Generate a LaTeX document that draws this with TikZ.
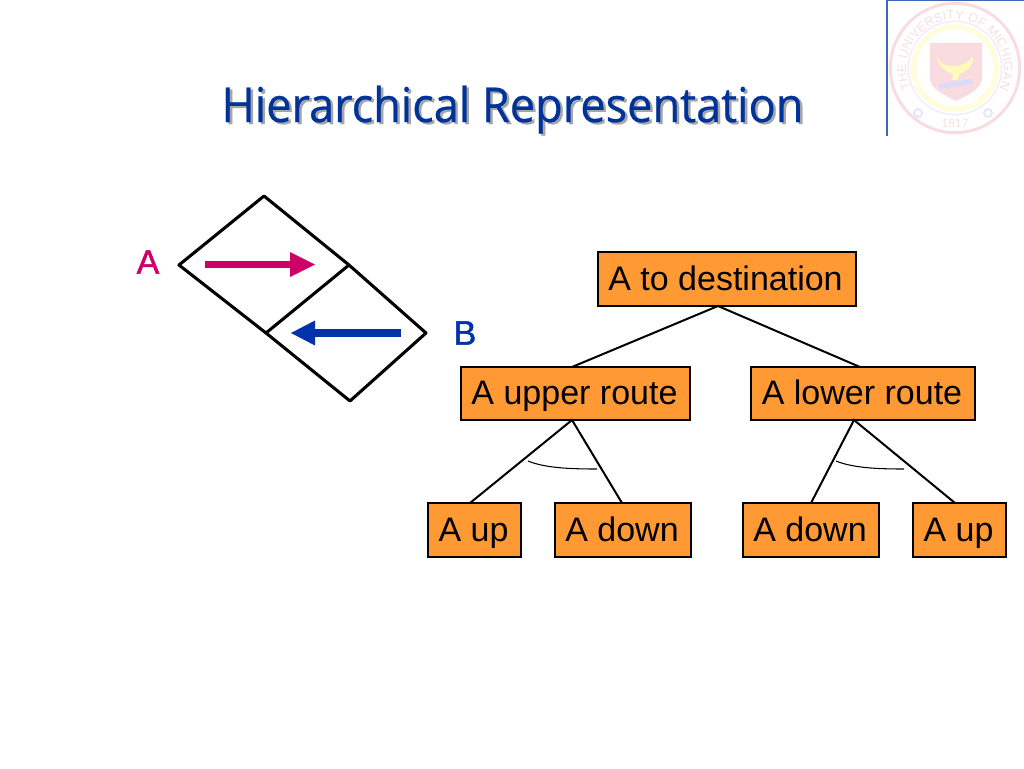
\documentclass[tikz,border=0pt]{standalone}
\usepackage{fontspec}
\usepackage{graphicx}
\setmainfont{Liberation Sans}
\newfontfamily\titlefont[RawFeature={embolden=0.5}]{Open Sans}
\newfontfamily\labelfont[RawFeature={embolden=1.4}]{Liberation Sans}
\usetikzlibrary{decorations.text}
\definecolor{boxorange}{HTML}{FF9933}
\definecolor{pinkA}{HTML}{CC0066}
\definecolor{blueB}{HTML}{0033AA}
\definecolor{titleblue}{HTML}{003399}
\definecolor{sealpink}{HTML}{F8DCE0}
\definecolor{sealtext}{HTML}{F5E0E2}
\tikzset{
  treebox/.style={draw=black,fill=boxorange,line width=1.5pt,anchor=center,inner sep=0pt,text height=20pt,text depth=3pt,font=\fontsize{25.5pt}{30pt}\selectfont},
  treeline/.style={draw=black,line width=1.5pt},
  andarc/.style={draw=black,line width=0.8pt},
  cell/.style={draw=black,line width=2.3pt,line join=round},
  agentlabel/.style={font=\labelfont\fontsize{25.5pt}{30pt}\selectfont,inner sep=0pt,anchor=center}
}
\begin{document}
\begin{tikzpicture}[x=0.75pt,y=-0.75pt]
\useasboundingbox (0,0) rectangle (1024,768);
\fill[white] (0,0) rectangle (1024,768);
% seal
\draw[sealpink,line width=2.2pt] (955,68) circle[radius=48.5pt];
\draw[blue!7!white,line width=1pt] (955,68) circle[radius=35pt];
\draw[yellow!14!white,line width=4pt] (955,68) circle[radius=31pt];
\fill[sealpink] (930,43) -- (982,43) -- (982,78) .. controls (982,90) and (965,96) .. (956,101) .. controls (947,96) and (930,90) .. (930,78) -- cycle;
\fill[yellow!28!white] (937,55) .. controls (940,66) and (948,66) .. (955,66) .. controls (964,66) and (970,60) .. (973,57) .. controls (974,66) and (966,72) .. (959,74) -- (958,80) -- (952,80) -- (953,74) .. controls (946,72) and (937,66) .. (937,55) -- cycle;
\fill[blue!14!white] (938,84) -- (972,79) -- (973,84) -- (940,89) -- cycle;
\path[decorate,decoration={text along path,text align={fit to path},text={|\fontsize{9.5pt}{11pt}\selectfont\color{sealtext}|THE UNIVERSITY OF MICHIGAN}}]
  (955,68) ++(205:36.5pt) arc[start angle=205,end angle=-25,radius=36.5pt];
\node[inner sep=0pt,text=sealtext,font=\fontsize{9pt}{10pt}\selectfont] (year) at (955,123) {1817};
\draw[blue!10!white,line width=1.5pt] (918,113) circle[radius=3pt];
\draw[blue!10!white,line width=1.5pt] (988,113) circle[radius=3pt];
\draw[blueB!75!white,line width=0.8pt] (887,136) -- (887,0.5) -- (1024,0.5);
% title
\node[anchor=base,inner sep=0pt,text=black!35,font=\titlefont\fontsize{36pt}{42pt}\selectfont] (titleshadow) at (515,124) {\scalebox{0.94}[1]{Hierarchical Representation}};
\node[anchor=base,inner sep=0pt,text=titleblue,font=\titlefont\fontsize{36pt}{42pt}\selectfont] (title) at (512.5,122) {\scalebox{0.94}[1]{Hierarchical Representation}};
% road cells
\coordinate (top) at (264,196);
\coordinate (left) at (179,265);
\coordinate (midr) at (349,265);
\coordinate (midl) at (266,333);
\coordinate (right) at (426,333);
\coordinate (bot) at (350,401);
\draw[cell] (top) -- (midr) -- (right) -- (bot) -- (midl) -- (left) -- cycle;
\draw[cell] (midl) -- (midr);
% arrows
\coordinate (a0) at (205,264.5);
\coordinate (a1) at (290,264.5);
\coordinate (a2) at (315,264.5);
\draw[pinkA,line width=5.3pt] (a0) -- (a1);
\fill[pinkA] (290,252) -- (a2) -- (290,277) -- cycle;
\coordinate (b0) at (401,333);
\coordinate (b1) at (315,333);
\coordinate (b2) at (291,333);
\draw[blueB,line width=5.3pt] (b0) -- (b1);
\fill[blueB] (315,320.5) -- (b2) -- (315,345.5) -- cycle;
\node[agentlabel,text=pinkA] (labA) at (148,262) {A};
\node[agentlabel,text=blueB] (labB) at (465,333) {B};
% tree
\node[treebox,minimum width=193.5pt,minimum height=40pt] (root) at (726.5,279) {\kern-1.5pt A to destination};
\node[treebox,minimum width=171.5pt,minimum height=39.5pt] (upper) at (575.5,393.5) {\kern-1.5pt A upper route};
\node[treebox,minimum width=167.5pt,minimum height=39.5pt] (lower) at (863,393.5) {\kern-1.5pt A lower route};
\node[treebox,minimum width=69.5pt,minimum height=40pt] (up1) at (474.5,530) {\kern-1.5pt A up};
\node[treebox,minimum width=102pt,minimum height=40pt] (down1) at (623,530) {\kern-1.5pt A down};
\node[treebox,minimum width=102pt,minimum height=40pt] (down2) at (811,530) {\kern-1.5pt A down};
\node[treebox,minimum width=69.5pt,minimum height=40pt] (up2) at (959.5,530) {\kern-1.5pt A up};
\coordinate (rootj) at (718,306);
\coordinate (uj) at (572,367);
\coordinate (lj) at (860,367);
\coordinate (ubj) at (572,420);
\coordinate (lbj) at (854,420);
\coordinate (t1) at (470,503);
\coordinate (t2) at (622,503);
\coordinate (t3) at (811,503);
\coordinate (t4) at (955,503);
\draw[treeline] (uj) -- (rootj) -- (lj);
\draw[treeline] (t1) -- (ubj) -- (t2);
\draw[treeline] (t3) -- (lbj) -- (t4);
\coordinate (c1) at (528,461);
\coordinate (c2) at (597,469);
\coordinate (c3) at (836,461);
\coordinate (c4) at (904,469);
\draw[andarc] (c1) .. controls (545,468) and (570,469) .. (c2);
\draw[andarc] (c3) .. controls (853,468) and (878,469) .. (c4);
\end{tikzpicture}
\end{document}
